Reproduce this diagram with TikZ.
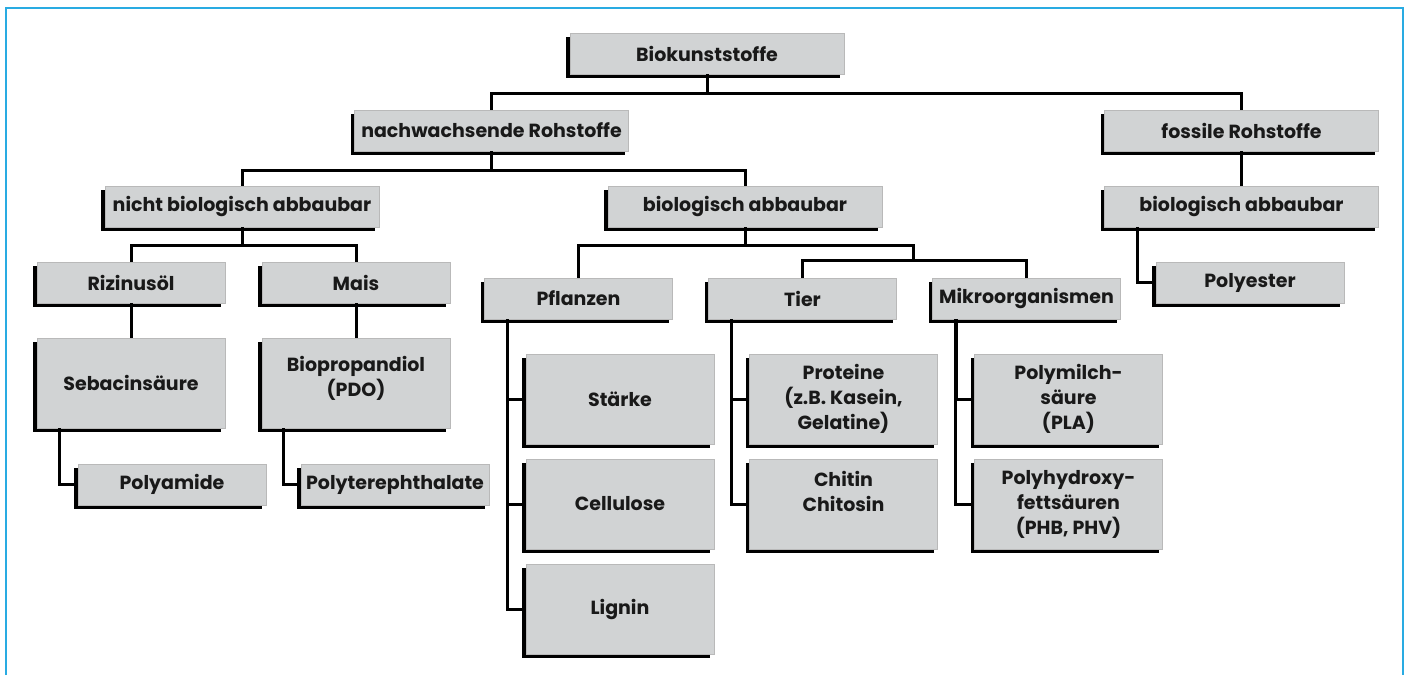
\documentclass[tikz,border=0pt]{standalone}
\usepackage{fontspec}
\setmainfont{Poppins}
\usetikzlibrary{positioning, shadows, calc}
\definecolor{rahmenblau}{RGB}{41,171,226}
\definecolor{kastengrau}{RGB}{209,211,212}

\tikzset{
  kasten/.style={draw=gray!55, line width=0.4pt, fill=kastengrau, inner sep=0pt,
    align=center, text=black!90, font=\fontsize{9.5}{12.5}\selectfont\bfseries,
    minimum height=20.5pt,
    drop shadow={shadow xshift=-2pt, shadow yshift=-2pt, fill=black, opacity=1}},
  breit/.style={kasten, minimum width=137pt},
  schmal/.style={kasten, minimum width=94pt},
  hoch/.style={schmal, minimum height=45pt},
  linie/.style={line width=1.5pt, black}
}

\begin{document}
\begin{tikzpicture}[x=0.5pt, y=-0.5pt]
    \useasboundingbox (0,0) rectangle (1407,675);
    % blauer Rahmen, unten offen
    \draw[rahmenblau, line width=1.2pt] (6,675) -- (6,8) -- (1403,8) -- (1403,675);

    %--- OBERE EBENEN ---
    \node[breit] (biokunst) at (707,53.5) {Biokunststoffe};
    \node[breit] (nachw) at (491.5,130.5) {nachwachsende Rohstoffe};
    \node[breit] (fossil) at (1241.5,130.5) {fossile Rohstoffe};
    \node[breit] (nichtbio) at (242,206.5) {nicht biologisch abbaubar};
    \node[breit] (biomid) at (745,206.5) {biologisch abbaubar};
    \node[breit] (biofos) at (1241.5,206.5) {biologisch abbaubar};

    %--- NICHT ABBAUBAR ---
    \node[schmal] (rizinus) at (131,282.5) {Rizinusöl};
    \node[schmal] (mais) at (356,282.5) {Mais};
    \node[hoch] (sebacin) at (131,383) {Sebacinsäure};
    \node[hoch] (pdo) at (356,383) {Biopropandiol\\(PDO)\\[-5.5pt]\mbox{}};
    \node[schmal] (polyamid) at (172,484.5) {Polyamide};
    \node[schmal] (polytere) at (395,484.5) {Polyterephthalate};

    %--- ABBAUBAR ---
    \node[schmal] (pflanzen) at (578.5,298.5) {Pflanzen};
    \node[schmal] (tier) at (802.5,298.5) {Tier};
    \node[schmal] (mikro) at (1026.5,298.5) {Mikroorganismen};
    \node[hoch] (staerke) at (620,399) {Stärke};
    \node[hoch] (cellulose) at (620,504) {Cellulose};
    \node[hoch] (lignin) at (620,609) {Lignin};
    \node[hoch] (proteine) at (843.5,399) {Proteine\\(z.B. Kasein,\\Gelatine)};
    \node[hoch] (chitin) at (843.5,504) {Chitin\\Chitosin\\\mbox{}};
    \node[hoch] (pla) at (1068.5,399) {Polymilch-\\säure\\(PLA)};
    \node[hoch] (pha) at (1068.5,504) {Polyhydroxy-\\fettsäuren\\(PHB, PHV)};

    %--- FOSSIL ---
    \node[schmal] (polyester) at (1250,282.5) {Polyester};

    %--- LINIEN ---
    \begin{scope}[linie]
      \draw (biokunst.south) -- ++(0,19) -| (nachw.north);
      \draw (biokunst.south) ++(0,19) -| (fossil.north);
      \draw (nachw.south) -- ++(0,19) -| (nichtbio.north);
      \draw (nachw.south) ++(0,19) -| (biomid.north);
      \draw (fossil.south) -- (biofos.north);
      \draw (nichtbio.south) -- ++(0,18) -| (rizinus.north);
      \draw (nichtbio.south) ++(0,18) -| (mais.north);
      \draw (rizinus.south) -- (sebacin.north);
      \draw (mais.south) -- (pdo.north);
      \draw (sebacin.south west) ++(23,0) |- (polyamid.west);
      \draw (pdo.south west) ++(22,0) |- (polytere.west);
      \coordinate (knick) at (913,245);
      \coordinate (knick2) at (913,260);
      \draw (biomid.south) -- (biomid.south |- knick);
      \draw (pflanzen.north) |- (knick) -- (knick2);
      \draw (tier.north) |- (knick2) -| (mikro.north);
      \draw (pflanzen.south west) ++(23,0) |- (lignin.west);
      \draw (pflanzen.south west -| lignin.west) ++(-18,0) |- (staerke.west);
      \draw (pflanzen.south west -| lignin.west) ++(-18,0) |- (cellulose.west);
      \draw (tier.south west) ++(23,0) |- (chitin.west);
      \draw (tier.south west -| chitin.west) ++(-18,0) |- (proteine.west);
      \draw (mikro.south west) ++(23,0) |- (pha.west);
      \draw (mikro.south west -| pha.west) ++(-18,0) |- (pla.west);
      \draw (biofos.south west) ++(33,0) |- (polyester.west);
    \end{scope}
\end{tikzpicture}
\end{document}
